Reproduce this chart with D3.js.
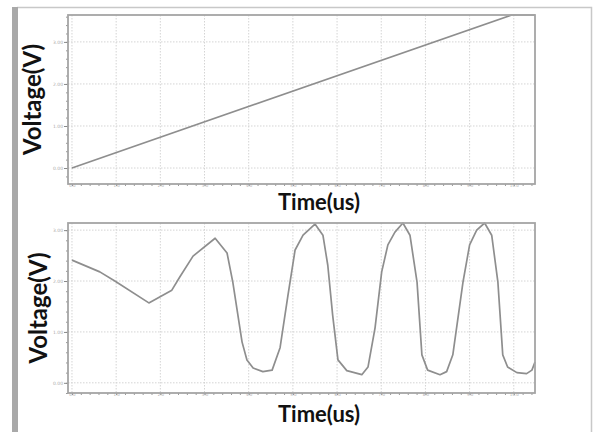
<!DOCTYPE html>
<html>
<head>
<meta charset="utf-8">
<script src="https://cdn.jsdelivr.net/npm/d3@7"></script>
<style>
	body { margin: 0; background: #fff; }
	svg { display: block; }
	.tick text { fill: #aaa; font-family: "DejaVu Sans", sans-serif; }
	.lbl { font-family: Lato, "Open Sans", sans-serif; font-weight: bold; fill: #111; }
</style>
</head>
<body>
<script>
	//top panel: linear ramp
var rampTime = [0, 9.95, 10.48];
var rampVolt = [0, 3.64, 3.64];

	//bottom panel: oscillation
var oscTime = [0.00, 0.63, 0.97, 1.74, 2.26, 2.44, 2.74, 3.24, 3.51, 3.64, 3.85, 3.96, 4.10, 4.32, 4.53,
	4.71, 4.89, 5.05, 5.23, 5.50, 5.68, 5.79, 5.90, 6.02, 6.22, 6.56, 6.70, 6.86, 7.01, 7.15, 7.31,
	7.49, 7.65, 7.81, 7.92, 8.05, 8.33, 8.48, 8.62, 8.85, 9.00, 9.16, 9.34, 9.50, 9.64, 9.75, 9.86,
	10.07, 10.29, 10.41, 10.48];
var oscVolt = [2.41, 2.18, 2.00, 1.57, 1.82, 2.08, 2.49, 2.84, 2.55, 1.98, 0.80, 0.45, 0.29, 0.22, 0.25,
	0.69, 1.73, 2.61, 2.90, 3.12, 2.90, 2.31, 1.33, 0.45, 0.24, 0.16, 0.31, 1.08, 2.18, 2.71, 2.96,
	3.14, 2.90, 1.98, 0.55, 0.25, 0.16, 0.22, 0.55, 1.98, 2.71, 3.00, 3.14, 2.90, 1.98, 0.55, 0.31,
	0.20, 0.18, 0.25, 0.41];

var xTicks = [0, 1, 2, 3, 4, 5, 6, 7, 8, 9, 10];
var yTicks = [0, 1, 2, 3];
var xLabel = 'Time(us)';
var yLabel = 'Voltage(V)';

var svg = d3.select('body').append('svg')
	.attr('width', 594)
	.attr('height', 432);

	//outer frame
svg.append('path')
	.attr('d', 'M17,7.5 H591.5 V432')
	.attr('fill', 'none')
	.attr('stroke', '#c8c8c8')
	.attr('stroke-width', 1.5);
svg.append('rect')
	.attr('x', 12).attr('y', 7)
	.attr('width', 6).attr('height', 425)
	.attr('fill', '#a9a9a9');

function drawPanel(top, bottom, yDomain, times, volts, titleY, ylabX) {
	var x = d3.scaleLinear().domain([-0.09, 10.48]).range([68, 535]);
	var y = d3.scaleLinear().domain(yDomain).range([bottom, top]);
	var g = svg.append('g');

		//grid
	g.selectAll('.vgrid').data(xTicks).enter().append('line')
		.attr('x1', function(d) { return x(d); }).attr('x2', function(d) { return x(d); })
		.attr('y1', top).attr('y2', bottom)
		.attr('stroke', '#d4d4d4').attr('stroke-dasharray', '1.5,1.5');
	g.selectAll('.hgrid').data(yTicks).enter().append('line')
		.attr('y1', function(d) { return y(d); }).attr('y2', function(d) { return y(d); })
		.attr('x1', 68).attr('x2', 535)
		.attr('stroke', '#d4d4d4').attr('stroke-dasharray', '1.5,1.5');

		//minor ticks
	var minorX = d3.range(0, 10.41, 0.2);
	var minorY = d3.range(Math.ceil(yDomain[0] * 5) / 5, yDomain[1], 0.2);
	g.append('g').attr('transform', 'translate(0,' + bottom + ')')
		.call(d3.axisBottom(x).tickValues(minorX).tickSize(2).tickFormat(''))
		.call(function(a) { a.select('.domain').remove(); a.selectAll('line').attr('stroke', '#999'); });
	g.append('g').attr('transform', 'translate(68,0)')
		.call(d3.axisLeft(y).tickValues(minorY).tickSize(2).tickFormat(''))
		.call(function(a) { a.select('.domain').remove(); a.selectAll('line').attr('stroke', '#999'); });

		//major ticks with tiny labels
	g.append('g').attr('transform', 'translate(0,' + bottom + ')')
		.call(d3.axisBottom(x).tickValues(xTicks).tickSize(1.5).tickPadding(-1).tickFormat(d3.format('.1f')))
		.call(function(a) {
			a.select('.domain').remove();
			a.selectAll('line').attr('stroke', '#888');
			a.selectAll('text').attr('font-size', 4);
		});
	g.append('g').attr('transform', 'translate(68,0)')
		.call(d3.axisLeft(y).tickValues(yTicks).tickSize(4).tickPadding(1).tickFormat(d3.format('.2f')))
		.call(function(a) {
			a.select('.domain').remove();
			a.selectAll('line').attr('stroke', '#888');
			a.selectAll('text').attr('font-size', 4.5);
		});

		//trace
	var pts = times.map(function(t, i) { return [t, volts[i]]; });
	g.append('path')
		.datum(pts)
		.attr('fill', 'none')
		.attr('stroke', '#8e8e8e')
		.attr('stroke-width', 1.7)
		.attr('stroke-linejoin', 'round')
		.attr('d', d3.line().x(function(d) { return x(d[0]); }).y(function(d) { return y(d[1]); }));

		//frame
	g.append('rect')
		.attr('x', 68).attr('y', top)
		.attr('width', 535 - 68).attr('height', bottom - top)
		.attr('fill', 'none').attr('stroke', '#a5a5a5').attr('stroke-width', 1.8);

		//labels
	g.append('text').attr('class', 'lbl')
		.attr('x', 319).attr('y', titleY)
		.attr('text-anchor', 'middle')
		.attr('font-size', 22)
		.text(xLabel);
	g.append('text').attr('class', 'lbl')
		.attr('transform', 'translate(' + ylabX + ',' + ((top + bottom) / 2) + ') rotate(-90)')
		.attr('text-anchor', 'middle')
		.attr('font-size', 24)
		.text(yLabel);
}

drawPanel(15, 184, [-0.38, 3.64], rampTime, rampVolt, 210, 41);
drawPanel(223, 393, [-0.2, 3.14], oscTime, oscVolt, 422, 47);
</script>
</body>
</html>
